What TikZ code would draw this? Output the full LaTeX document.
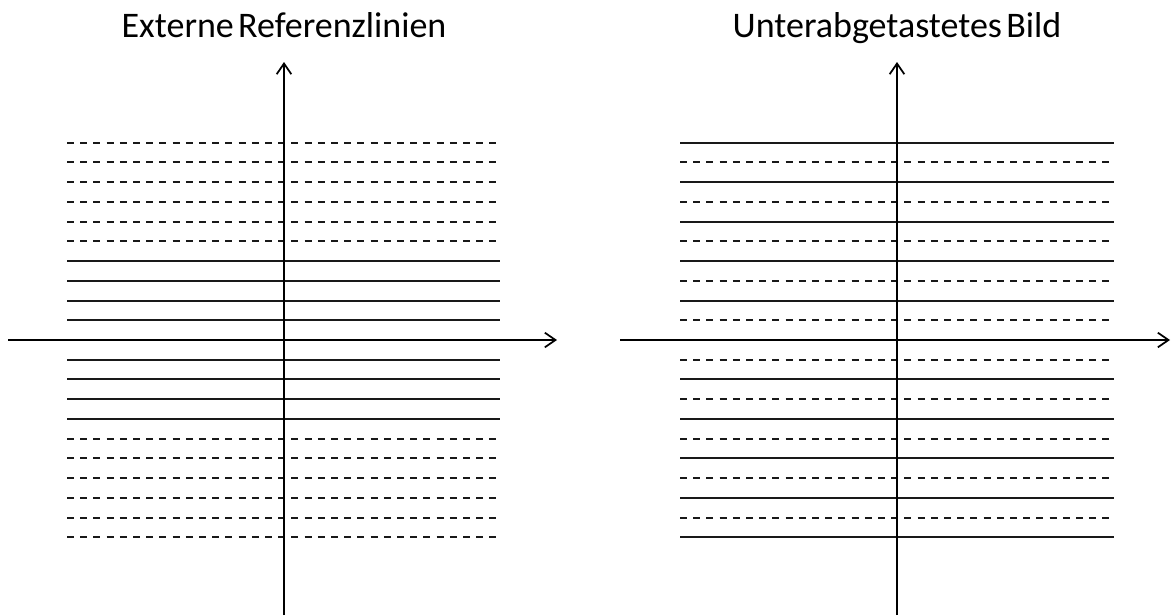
\documentclass[tikz,border=0pt]{standalone}
\usepackage{fontspec}
\setmainfont{Carlito}
\usetikzlibrary{arrows.meta}
\begin{document}
\begin{tikzpicture}[x=0.75pt,y=-0.75pt,
  refline/.style={line width=1.5pt,black!90},
  dashline/.style={refline,dash pattern=on 5.3pt off 4.6pt},
  axis/.style={line width=1.5pt,black,-{Straight Barb[length=8pt,width=11pt,line width=1.3pt]}},
  title/.style={font=\fontsize{27}{32}\selectfont,anchor=base,inner sep=0pt}]
\useasboundingbox (0,0) rectangle (1171,615);
% left panel
\foreach \k in {-10,...,10}{
  \pgfmathtruncatemacro{\ak}{abs(\k)}
  \pgfmathtruncatemacro{\yy}{round(340+19.73*\k)}
  \ifnum\ak>4
    \draw[dashline] (67,\yy) -- (500,\yy);
  \else
    \draw[refline] (67,\yy) -- (500,\yy);
  \fi
}
\coordinate (lxs) at (8,340);
\coordinate (lxe) at (557,340);
\coordinate (lys) at (284,615);
\coordinate (lye) at (284,62);
\draw[axis] (lxs) -- (lxe);
\draw[axis] (lys) -- (lye);
\node[title] (tl) at (284,37) {Externe\hspace{0.12em}Referenzlinien};
% right panel
\foreach \k in {-10,...,10}{
  \pgfmathtruncatemacro{\mk}{mod(abs(\k),2)}
  \pgfmathtruncatemacro{\yy}{round(340+19.73*\k)}
  \ifnum\mk=1
    \draw[dashline] (680,\yy) -- (1114,\yy);
  \else
    \draw[refline] (680,\yy) -- (1114,\yy);
  \fi
}
\coordinate (rxs) at (620,340);
\coordinate (rxe) at (1170,340);
\coordinate (rys) at (897,615);
\coordinate (rye) at (897,62);
\draw[axis] (rxs) -- (rxe);
\draw[axis] (rys) -- (rye);
\node[title] (tr) at (897,37) {Unterabgetastetes\hspace{0.12em}Bild};
\end{tikzpicture}
\end{document}
